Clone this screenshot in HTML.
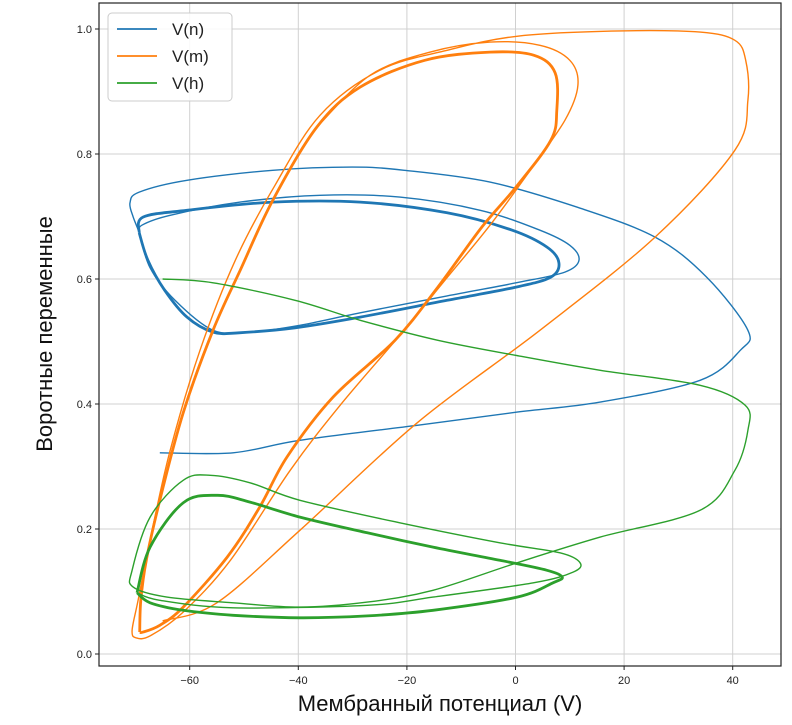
<!DOCTYPE html>
<html><head><meta charset="utf-8">
<style>
html,body{margin:0;padding:0;background:#fff;}
svg{display:block;font-family:"Liberation Sans","DejaVu Sans",sans-serif;}
</style></head>
<body>
<svg id="chart" width="792" height="725" viewBox="0 0 792 725"></svg>
<script>
const xTicks=[-60,-40,-20,0,20,40];
const yTicks=[0.0,0.2,0.4,0.6,0.8,1.0];
const yTickLabels=["0.0","0.2","0.4","0.6","0.8","1.0"];
const seriesNames=["V(n)","V(m)","V(h)"];
// n: transient + second loop, then limit cycle
const nTransV=[-65.5,-52,-39.7,-18.1,0.3,15.6,34,41.4,42.8,35.2,25.7,11.3,-4.7,-20.5,-30.1,-44.7,-60.5,-69.3,-71,-70.4,-69.3,-67.3,-62.7,-55.7,-48.9,-39.7,-28.6,-12.6,0.8,9.1,11.7,10,4.5,-6.5,-21.3,-36,-50.7,-63.6,-68.8,-69.3];
const nTransY=[0.322,0.322,0.342,0.366,0.387,0.403,0.438,0.486,0.518,0.603,0.667,0.715,0.755,0.774,0.779,0.774,0.758,0.739,0.722,0.699,0.674,0.618,0.566,0.518,0.515,0.526,0.546,0.573,0.595,0.611,0.630,0.654,0.678,0.710,0.731,0.734,0.723,0.702,0.686,0.674];
const nCycV=[-69.3,-68.6,-60.5,-44.7,-28.6,-12.6,-0.6,5.8,8.0,6.5,0.1,-12.6,-28.6,-40.6,-50.9,-55.7,-60.5,-64.6,-67.7,-69.3];
const nCycY=[0.674,0.699,0.710,0.723,0.723,0.706,0.678,0.651,0.626,0.603,0.587,0.566,0.539,0.522,0.514,0.515,0.539,0.582,0.630,0.674];
// m
const mTransV=[-65,-55,-39.7,-18.1,4.5,25.7,40.4,42.8,42.4,40.4,34,19.2,0.8,-12.6,-25,-36,-44.3,-51.6,-58.1,-63.6,-67.3,-69.5,-70.6,-69.9,-67.3,-61.2,-52.5,-41.5,-32.3,-21.3,-13,-4.7,2.7,9.1,11.5,10,4.5,-4.7,-15.7,-26.8,-36.6];
const mTransY=[0.053,0.082,0.198,0.37,0.518,0.667,0.806,0.886,0.95,0.982,0.995,0.997,0.989,0.966,0.934,0.862,0.75,0.63,0.486,0.326,0.182,0.086,0.038,0.026,0.029,0.067,0.15,0.294,0.398,0.51,0.598,0.686,0.774,0.854,0.91,0.95,0.974,0.979,0.963,0.926,0.843];
const mCycV=[-69.2,-69.0,-68.0,-65.5,-61.2,-55.7,-50.7,-44.7,-36.6,-28.6,-16.7,-4.7,3.4,7.3,7.6,6.5,0.1,-6.2,-14.3,-22.2,-33.6,-42.1,-47.1,-53.1,-61.2,-65.5,-68.6,-69.2];
const mCycY=[0.035,0.086,0.15,0.246,0.386,0.518,0.614,0.726,0.843,0.907,0.950,0.963,0.958,0.930,0.870,0.822,0.747,0.683,0.587,0.502,0.411,0.315,0.235,0.155,0.075,0.046,0.035,0.035];
// h
const hTransV=[-65,-55.7,-40.6,-28.6,-14.3,0,15.6,34,42.3,42.8,40.4,34,15.6,0.3,-15.2,-27.3,-39.7,-52,-64.2,-70.4,-70.6,-67.3,-61.2,-56.2,-48.9,-39.7,-21.3,-2.9,8.2,11.9,10.6,3.3,-15.2,-27.3,-52,-65.5,-69.7];
const hTransY=[0.6,0.594,0.566,0.534,0.502,0.478,0.454,0.43,0.398,0.358,0.294,0.23,0.187,0.146,0.102,0.083,0.075,0.082,0.091,0.107,0.134,0.219,0.278,0.286,0.274,0.246,0.210,0.178,0.162,0.146,0.131,0.114,0.091,0.078,0.074,0.086,0.098];
const hCycV=[-69.7,-67.3,-61.2,-55.0,-48.9,-39.7,-27.3,-15.2,-2.9,5.8,8.6,6.9,0.3,-15.2,-27.3,-39.7,-52.0,-61.2,-67.3,-69.7];
const hCycY=[0.098,0.171,0.242,0.254,0.243,0.219,0.194,0.171,0.150,0.134,0.123,0.114,0.091,0.070,0.061,0.058,0.062,0.070,0.082,0.098];

const NS="http://www.w3.org/2000/svg";
const svg=document.getElementById('chart');
const L=99,R=781,T=3,B=666;
function xs(v){return 515.5+v*5.43;}
function ys(v){return 654-v*625;}
function mk(tag,attrs,parent){const e=document.createElementNS(NS,tag);for(const k in attrs)e.setAttribute(k,attrs[k]);(parent||svg).appendChild(e);return e;}
function pathD(V,Y){
  const p=V.map((v,i)=>[xs(v),ys(Y[i])]);
  let d="M"+p[0][0].toFixed(1)+","+p[0][1].toFixed(1);
  for(let i=0;i<p.length-1;i++){
    const p0=p[i-1]||p[i],p1=p[i],p2=p[i+1],p3=p[i+2]||p2;
    const c1=[p1[0]+(p2[0]-p0[0])/6,p1[1]+(p2[1]-p0[1])/6];
    const c2=[p2[0]-(p3[0]-p1[0])/6,p2[1]-(p3[1]-p1[1])/6];
    d+=" C"+c1[0].toFixed(1)+","+c1[1].toFixed(1)+" "+c2[0].toFixed(1)+","+c2[1].toFixed(1)+" "+p2[0].toFixed(1)+","+p2[1].toFixed(1);
  }
  return d;
}
// grid
const grid=mk('g',{});


xTicks.forEach(t=>{const l=mk('line',{x1:xs(t),x2:xs(t),y1:T,y2:B,stroke:'#d0d0d0','stroke-width':1},grid);

});
yTicks.forEach(t=>{const l=mk('line',{x1:L,x2:R,y1:ys(t),y2:ys(t),stroke:'#d0d0d0','stroke-width':1},grid);

});
// series
const cols=['#1f77b4','#ff7f0e','#2ca02c'];
const data=[[nTransV,nTransY,nCycV,nCycY],[mTransV,mTransY,mCycV,mCycY],[hTransV,hTransY,hCycV,hCycY]];
data.forEach((s,i)=>{
  const g=mk('g',{fill:'none',stroke:cols[i]});
  
  
  const a=mk('path',{d:pathD(s[0],s[1]),'stroke-width':1.4},g);
  
  
  const b=mk('path',{d:pathD(s[2],s[3]),'stroke-width':2.8},g);
  
  
});
// axes frame
const fr=mk('rect',{x:L,y:T,width:R-L,height:B-T,fill:'none',stroke:'#222','stroke-width':1.2});


xTicks.forEach(t=>{
  mk('line',{x1:xs(t),x2:xs(t),y1:B,y2:B+4,stroke:'#222'});
  const tx=mk('text',{x:xs(t),y:B+18,'font-size':11,'text-anchor':'middle',fill:'#222'});
  tx.textContent=(t<0?'\u2212'+(-t):''+t);
  
  
});
yTicks.forEach((t,i)=>{
  mk('line',{x1:L-4,x2:L,y1:ys(t),y2:ys(t),stroke:'#222'});
  const tx=mk('text',{x:L-7,y:ys(t)+4,'font-size':11,'text-anchor':'end',fill:'#222'});
  tx.textContent=yTickLabels[i];
  
  
});
const xt=mk('text',{x:440,y:711,'font-size':22,'text-anchor':'middle',fill:'#111'});
xt.textContent='Мембранный потенциал (V)';


const yt=mk('text',{x:0,y:0,'font-size':22,'text-anchor':'middle',fill:'#111',transform:'translate(52,334) rotate(-90)'});
yt.textContent='Воротные переменные';


// legend
const lg=mk('g',{});


mk('rect',{x:108,y:13,width:124,height:88,rx:4,fill:'#fff','fill-opacity':0.85,stroke:'#ccc'},lg);
seriesNames.forEach((n,i)=>{
  const y=29+i*27;
  const e=mk('g',{},lg);
  
  
  mk('line',{x1:117,x2:157,y1:y,y2:y,stroke:cols[i],'stroke-width':1.8},e);
  const t=mk('text',{x:172,y:y+6,'font-size':17,fill:'#222'},e);
  t.textContent=n;
});
</script>
</body></html>
